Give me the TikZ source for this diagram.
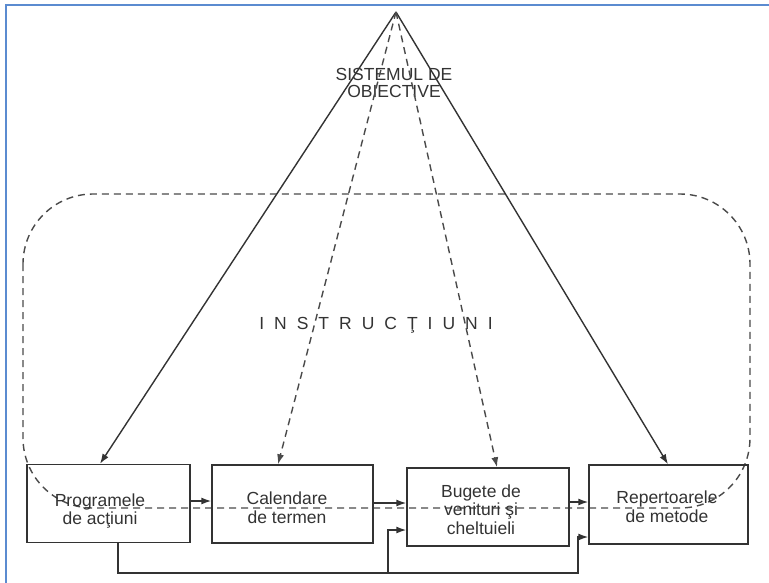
\documentclass[tikz,border=0pt]{standalone}
\usepackage{fontspec}
\setmainfont{Liberation Sans}
\usetikzlibrary{arrows.meta}
\definecolor{inkc}{HTML}{333333}
\definecolor{dashc}{HTML}{4A4A4A}
\definecolor{frameblue}{HTML}{5B8BD0}
\begin{document}
\begin{tikzpicture}[x=1pt,y=-1pt,
  solidline/.style={draw=inkc, line width=1.4pt},
  dashline/.style={draw=dashc, line width=1.4pt, dash pattern=on 7pt off 5pt},
  tip/.style={-{Latex[length=10pt,width=7pt]}},
  boxc/.style={draw=inkc, line width=1.4pt, minimum width=#1, minimum height=78pt, inner sep=0pt},
  txt/.style={text=inkc, align=center, inner sep=0pt, font=\fontsize{17.5}{18.5}\selectfont}
]
\useasboundingbox (0,0) rectangle (769,582);
% outer blue frame
\draw[frameblue, line width=2pt] (6,600) -- (6,5) -- (790,5);

% instructions region
\draw[dashline, rounded corners=70pt] (23,194) rectangle (750,508);
\node[txt] (instr) at (376,325) {I\hspace{10pt}N\hspace{10pt}S\hspace{10pt}T\hspace{10pt}R\hspace{10pt}U\hspace{10pt}C\hspace{10pt}Ţ\hspace{10pt}I\hspace{10pt}U\hspace{10pt}N\hspace{10pt}I};

% apex and objectives
\coordinate (apex) at (396,12);
\node[txt, font=\fontsize{17.5}{17}\selectfont] (obj) at (394,83) {SISTEMUL DE\\OBIECTIVE};

% boxes
\node[boxc=163pt] (prog) at (108.5,503.5) {};
\node[boxc=161pt] (cal) at (292.5,504) {};
\node[boxc=162pt] (bug) at (488,507) {};
\node[boxc=159pt, minimum height=79pt] (rep) at (668.5,504.5) {};

\node[txt] (progt) at (100,511) {Programele\\de acţiuni};
\node[txt] (calt) at (287,507.5) {Calendare\\de termen};
\node[txt] (bugt) at (481,509.5) {Bugete de\\venituri şi\\cheltuieli};
\node[txt] (rept) at (667,506.5) {Repertoarele\\de metode};

% lines from apex
\draw[solidline, tip] (apex) -- ([xshift=-8.5pt]prog.north);
\draw[solidline, tip] (apex) -- ([xshift=-0.5pt]rep.north);
\draw[dashline, tip] (apex) -- ([xshift=-14.5pt]cal.north);
\draw[dashline, tip] (apex) -- ([xshift=9pt]bug.north);

% horizontal arrows between boxes
\coordinate (a1) at ([yshift=2.5pt]prog.east);
\coordinate (a2) at ([yshift=1pt]cal.east);
\coordinate (a3) at ([yshift=5pt]bug.east);
\draw[solidline, tip] (a1) -- (a1 -| cal.west);
\draw[solidline, tip] (a2) -- (a2 -| bug.west);
\draw[solidline, tip] (a3) -- (a3 -| rep.west);

% feedback lines at bottom
\coordinate (f0) at ([xshift=9.5pt]prog.south);
\coordinate (f1) at (578,573);
\coordinate (f2) at (388,573);
\coordinate (r4) at ([yshift=-32.5pt]rep.west);
\coordinate (b3) at ([yshift=-23pt]bug.west);
\draw[solidline, tip] (f0) |- (f1) |- (r4);
\draw[solidline, tip] (f2) |- (b3);
\end{tikzpicture}
\end{document}
